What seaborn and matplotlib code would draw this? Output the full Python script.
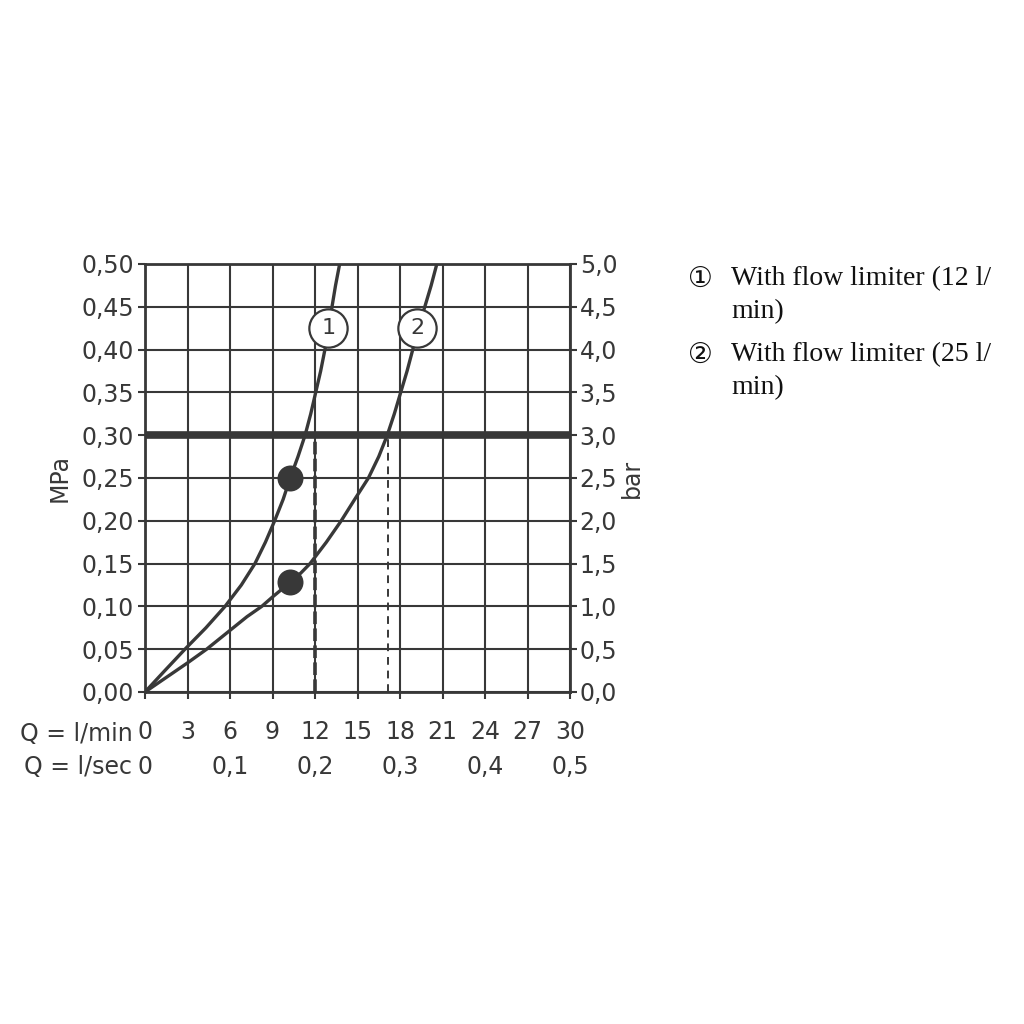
import numpy as np
import pandas as pd
import matplotlib
matplotlib.use("Agg")
import matplotlib.pyplot as plt
import seaborn as sns

# ---- data ----
q1 = [0, 1.4, 2.82, 4.3, 5.65, 6.8, 7.76, 8.5, 9.15, 9.75, 10.25, 10.8, 11.3,
      11.7, 12.05, 12.4, 12.7, 13.0, 13.2, 13.45, 13.74]
p1 = [0, 0.025, 0.05, 0.075, 0.10, 0.125, 0.15, 0.175, 0.20, 0.225, 0.25, 0.275, 0.30,
      0.325, 0.35, 0.375, 0.40, 0.425, 0.45, 0.475, 0.50]

q2 = [0, 1.5, 3.0, 4.35, 6.0, 7.2, 8.24, 9.0, 10.24, 11.0, 11.65, 12.8, 13.85, 14.8,
      15.77, 16.5, 17.1, 17.6, 18.05, 18.5, 18.9, 19.3, 19.75, 20.2, 20.6]
p2 = [0, 0.017, 0.034, 0.05, 0.072, 0.088, 0.10, 0.111, 0.128, 0.139, 0.15, 0.175, 0.20, 0.225,
      0.25, 0.275, 0.30, 0.325, 0.35, 0.375, 0.40, 0.425, 0.45, 0.475, 0.50]

dot_q = [10.25, 10.24]
dot_p = [0.25, 0.128]

label_q = [12.95, 19.2]
label_p = [0.425, 0.425]
label_txt = ["1", "2"]

limit_p = 0.30
limit_q = [12.0, 17.15]

q_ticks = list(range(0, 31, 3))
q_ticklabels = [str(v) for v in q_ticks]
qs_ticks = [0, 0.1, 0.2, 0.3, 0.4, 0.5]
qs_ticklabels = ["0", "0,1", "0,2", "0,3", "0,4", "0,5"]
mpa_ticks = [round(0.05 * i, 2) for i in range(11)]
mpa_ticklabels = [("%.2f" % v).replace(".", ",") for v in mpa_ticks]
bar_ticks = [0.5 * i for i in range(11)]
bar_ticklabels = [("%.1f" % v).replace(".", ",") for v in bar_ticks]

legend_marks = ["\u2460", "\u2461"]
legend_text = ["With flow limiter (12 l/\nmin)", "With flow limiter (25 l/\nmin)"]

# ---- style ----
sns.set_theme(style="white")
plt.rcParams["font.family"] = ["DejaVu Sans"]
ink = "#383838"
fs = 17

fig = plt.figure(figsize=(10.24, 10.24), dpi=100)
ax = fig.add_axes([145 / 1024, 1 - 692 / 1024, 425 / 1024, 428 / 1024])

df1 = pd.DataFrame({"Q": q1, "MPa": p1})
df2 = pd.DataFrame({"Q": q2, "MPa": p2})
sns.lineplot(data=df1, x="Q", y="MPa", ax=ax, color=ink, lw=2.4, sort=False, estimator=None, zorder=4)
sns.lineplot(data=df2, x="Q", y="MPa", ax=ax, color=ink, lw=2.4, sort=False, estimator=None, zorder=4)

ax.axhline(limit_p, color=ink, lw=5.5, zorder=5)
ax.plot([limit_q[0]] * 2, [0, limit_p], color=ink, lw=2.6, ls=(0, (3.5, 1.2)), zorder=4)
ax.plot([limit_q[1]] * 2, [0, limit_p], color=ink, lw=1.4, ls=(0, (4, 3)), zorder=4)

sns.scatterplot(x=dot_q, y=dot_p, ax=ax, color=ink, s=300, edgecolor=ink, zorder=6)
ax.scatter(label_q, label_p, s=760, facecolor="white", edgecolor=ink, lw=1.6, zorder=7)
for x, y, t in zip(label_q, label_p, label_txt):
    ax.text(x, y, t, ha="center", va="center", fontsize=16, color=ink, zorder=8)

ax.set_xlim(0, 30)
ax.set_ylim(0, 0.5)
ax.set_xticks(q_ticks)
ax.set_xticklabels(q_ticklabels)
ax.set_yticks(mpa_ticks)
ax.set_yticklabels(mpa_ticklabels)
ax.set_xlabel("")
ax.set_ylabel("MPa", fontsize=fs, color=ink, labelpad=7)
ax.grid(True, color=ink, lw=1.5)
ax.set_axisbelow(True)
for s in ax.spines.values():
    s.set_color(ink)
    s.set_linewidth(2)
ax.tick_params(axis="both", which="both", length=5, width=1.5, color=ink,
               labelcolor=ink, labelsize=fs, direction="out")
ax.tick_params(axis="x", pad=15, bottom=True)
ax.tick_params(axis="y", pad=3, left=True)

ax2 = ax.twinx()
ax2.set_ylim(0, 5)
ax2.set_yticks(bar_ticks)
ax2.set_yticklabels(bar_ticklabels)
ax2.tick_params(axis="y", length=5, width=1.5, color=ink, labelcolor=ink,
                labelsize=fs, pad=2, right=True, direction="out")
ax2.set_ylabel("bar", fontsize=fs, color=ink, rotation=90, labelpad=2)
for s in ax2.spines.values():
    s.set_visible(False)
ax2.grid(False)

sec = ax.secondary_xaxis(-0.079, functions=(lambda q: q / 60, lambda s: s * 60))
sec.set_xticks(qs_ticks)
sec.set_xticklabels(qs_ticklabels)
sec.tick_params(length=0, labelsize=fs, labelcolor=ink, pad=21)
sec.spines["bottom"].set_visible(False)

ax.text(-0.03, -0.097, "Q = l/min", transform=ax.transAxes, ha="right", va="center",
        fontsize=fs, color=ink)
ax.text(-0.03, -0.176, "Q = l/sec", transform=ax.transAxes, ha="right", va="center",
        fontsize=fs, color=ink)

serif = ["Liberation Serif", "DejaVu Serif"]
for i, (m, t) in enumerate(zip(legend_marks, legend_text)):
    y0 = 1 - (279 + 76 * i) / 1024
    fig.text(700 / 1024, y0, m, ha="center", va="center", fontsize=20,
             color="#111111", family=["DejaVu Sans"])
    fig.text(731 / 1024, y0 + 13 / 1024, t, ha="left", va="top", fontsize=20,
             color="#111111", family=serif, linespacing=1.42)

fig.savefig("out.png", dpi=100, facecolor="white")
